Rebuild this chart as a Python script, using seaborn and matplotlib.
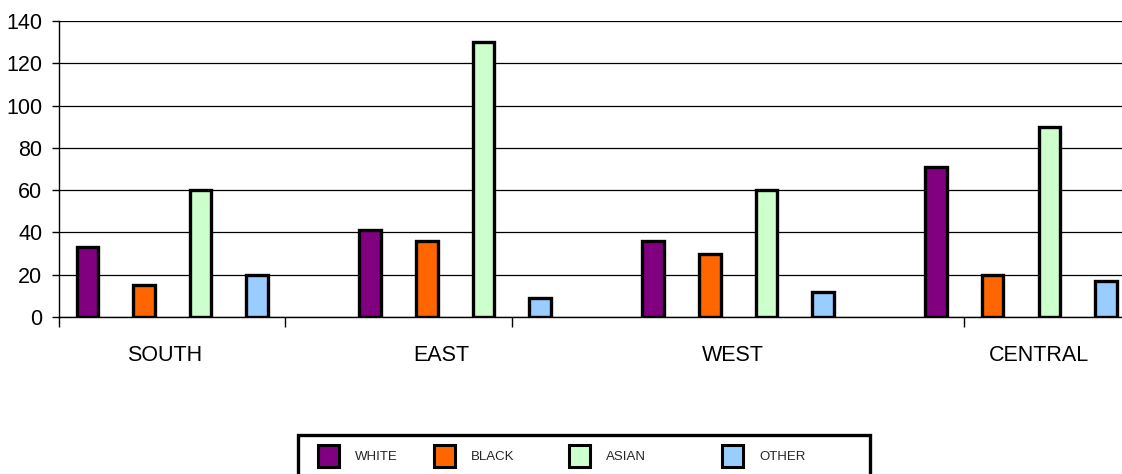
import matplotlib
matplotlib.use("Agg")
import matplotlib.pyplot as plt
import matplotlib.transforms as mtransforms
from matplotlib.patches import Patch, Rectangle
import numpy as np
import pandas as pd
import seaborn as sns

# ---- data ----
regions = ["SOUTH", "EAST", "WEST", "CENTRAL"]
groups = ["WHITE", "BLACK", "ASIAN", "OTHER"]
white = [33, 41, 36, 71]
black = [15, 36, 30, 20]
asian = [60, 130, 60, 90]
other = [20, 9, 12, 17]
colors = ["#800080", "#FF6600", "#CCFFCC", "#99CCFF"]

df = pd.DataFrame({"region": regions, "WHITE": white, "BLACK": black,
                   "ASIAN": asian, "OTHER": other})
long = df.melt(id_vars="region", var_name="group", value_name="value")

sns.set_theme(style="white")
plt.rcParams["font.family"] = ["Liberation Sans", "DejaVu Sans"]

W, H = 1122, 474
fig = plt.figure(figsize=(W / 100, H / 100), dpi=100)
ax = fig.add_axes([59 / W, 157 / H, (W - 59) / W, 296 / H])

sns.barplot(data=long, x="region", y="value", hue="group", order=regions,
            hue_order=groups, palette=colors, saturation=1, width=0.8,
            gap=0.62, edgecolor="black", linewidth=2.4, ax=ax, legend=False,
            errorbar=None)

ax.set_xlim(-0.4, 3.357)
ax.set_ylim(0, 140)
ax.set_yticks(range(0, 141, 20))
ax.yaxis.grid(True, color="black", linewidth=0.9)
ax.xaxis.grid(False)
ax.set_axisbelow(True)
for s in ["top", "right"]:
    ax.spines[s].set_visible(False)
for s in ["left", "bottom"]:
    ax.spines[s].set_color("black")
    ax.spines[s].set_linewidth(1)
ax.set_xlabel("")
ax.set_ylabel("")

ax.tick_params(axis="y", left=True, length=5, width=1, direction="out",
               labelsize=15.5, pad=7, color="black", labelcolor="black")
ax.tick_params(axis="x", which="major", bottom=False, length=0, pad=20,
               labelsize=15.5, labelcolor="black")
ax.set_xticks(np.arange(-0.4, 3.4, 0.8), minor=True)
ax.tick_params(axis="x", which="minor", bottom=True, length=7, width=1,
               direction="out", color="black")

# small horizontal shifts of category labels (pixels)
shifts = [-8, -14, -5, 18]
for lab, dx in zip(ax.get_xticklabels(), shifts):
    lab.set_transform(lab.get_transform() +
                      mtransforms.ScaledTranslation(dx / 100, 0, fig.dpi_scale_trans))

# ---- legend ----
frame = Rectangle((298 / W, (H - 478) / H), (870 - 298) / W, (478 - 435) / H,
                  transform=fig.transFigure, fill=False, edgecolor="black",
                  linewidth=2.4, clip_on=False)
fig.patches.append(frame)

fs = 9.5
fpx = fs * 100 / 72
lefts = [318, 434, 569, 722]
for g, c, x in zip(groups, colors, lefts):
    fig.legend(handles=[Patch(facecolor=c, edgecolor="black", linewidth=2.2)],
               labels=[g], loc="center left",
               bbox_to_anchor=(x / W, 1 - 456 / H), frameon=False,
               borderpad=0, borderaxespad=0, fontsize=fs,
               handlelength=21 / fpx, handleheight=2.3,
               handletextpad=16 / fpx)

fig.savefig("out.png", dpi=100)
